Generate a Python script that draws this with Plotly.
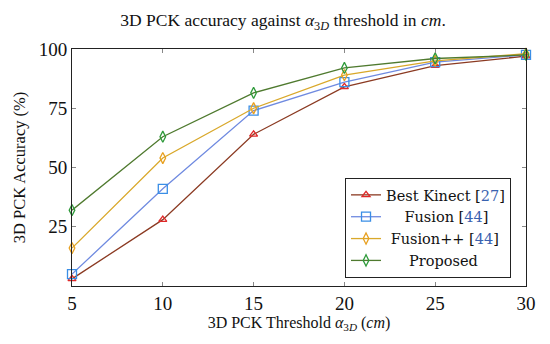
import plotly.graph_objects as go

thresholds = [5, 10, 15, 20, 25, 30]
best_kinect = [3, 28, 64, 84, 93, 97]
fusion = [5, 41, 74, 86, 94.5, 97.5]
fusion_pp = [16, 54, 75, 89, 95, 98]
proposed = [32, 63, 81.5, 92, 96, 97.5]

x_ticks = [5, 10, 15, 20, 25, 30]
y_ticks = [25, 50, 75, 100]

REF = "#3a62b0"
names = [
    "Best Kinect [<span style='color:%s'>27</span>]" % REF,
    "&nbsp;&nbsp;&nbsp;&nbsp;Fusion [<span style='color:%s'>44</span>]" % REF,
    "&nbsp;Fusion++ [<span style='color:%s'>44</span>]" % REF,
    "&nbsp;&nbsp;&nbsp;&nbsp;&nbsp;Proposed",
]
series = [best_kinect, fusion, fusion_pp, proposed]
line_colors = ["#8b3a22", "#6f8ae0", "#d9a82a", "#4f7a2f"]
marker_colors = ["#e02828", "#3a8ee6", "#e8a020", "#2e9a3a"]
symbols = ["triangle-up-open", "square-open", "diamond-tall-open", "diamond-tall-open"]
sizes = [7, 9, 8, 8]

fig = go.Figure()
for ys, nm, lc, mc, sym, sz in zip(series, names, line_colors, marker_colors, symbols, sizes):
    fig.add_trace(go.Scatter(
        x=thresholds, y=ys, mode="lines+markers", name=nm,
        line=dict(color=lc, width=1.3),
        marker=dict(symbol=sym, size=sz, color=mc, line=dict(color=mc, width=1.3)),
    ))

font_family = "Liberation Serif, DejaVu Serif, serif"
fig.update_layout(
    width=550, height=344,
    margin=dict(l=72, r=24, t=49, b=58),
    paper_bgcolor="white", plot_bgcolor="white",
    font=dict(family=font_family, size=16, color="#111"),
    title=dict(text="3D PCK accuracy against <i>α</i><sub>3<i>D</i></sub> threshold in <i>cm</i>.",
               x=283 / 550, xanchor="center", y=1 - 20 / 344, yanchor="middle",
               font=dict(size=17.5, family=font_family)),
    showlegend=True,
    legend=dict(x=0.967, xanchor="right", y=0.034, yanchor="bottom",
                bordercolor="#222", borderwidth=1, bgcolor="white",
                font=dict(size=14.5, family="DejaVu Serif, Liberation Serif, serif"),
                tracegroupgap=0, itemwidth=30),
)
fig.update_xaxes(
    range=[5, 30], tickvals=x_ticks, ticks="inside", ticklen=4, tickcolor="#888",
    showline=True, linecolor="#222", linewidth=1, mirror="ticks", showgrid=False, zeroline=False,
    title=dict(text="3D PCK Threshold <i>α</i><sub>3<i>D</i></sub> (<i>cm</i>)", font=dict(size=16), standoff=3),
    tickfont=dict(size=19),
)
fig.update_yaxes(
    range=[0, 100], tickvals=y_ticks, ticks="inside", ticklen=4, tickcolor="#888",
    showline=True, linecolor="#222", linewidth=1, mirror="ticks", showgrid=False, zeroline=False,
    title=dict(text="3D PCK Accuracy (%)", font=dict(size=16.5), standoff=8),
    tickfont=dict(size=19),
)
fig.update_traces(cliponaxis=False)
fig.write_html("out.html", post_script="document.body.style.margin='0';",
               config={"displayModeBar": False})
